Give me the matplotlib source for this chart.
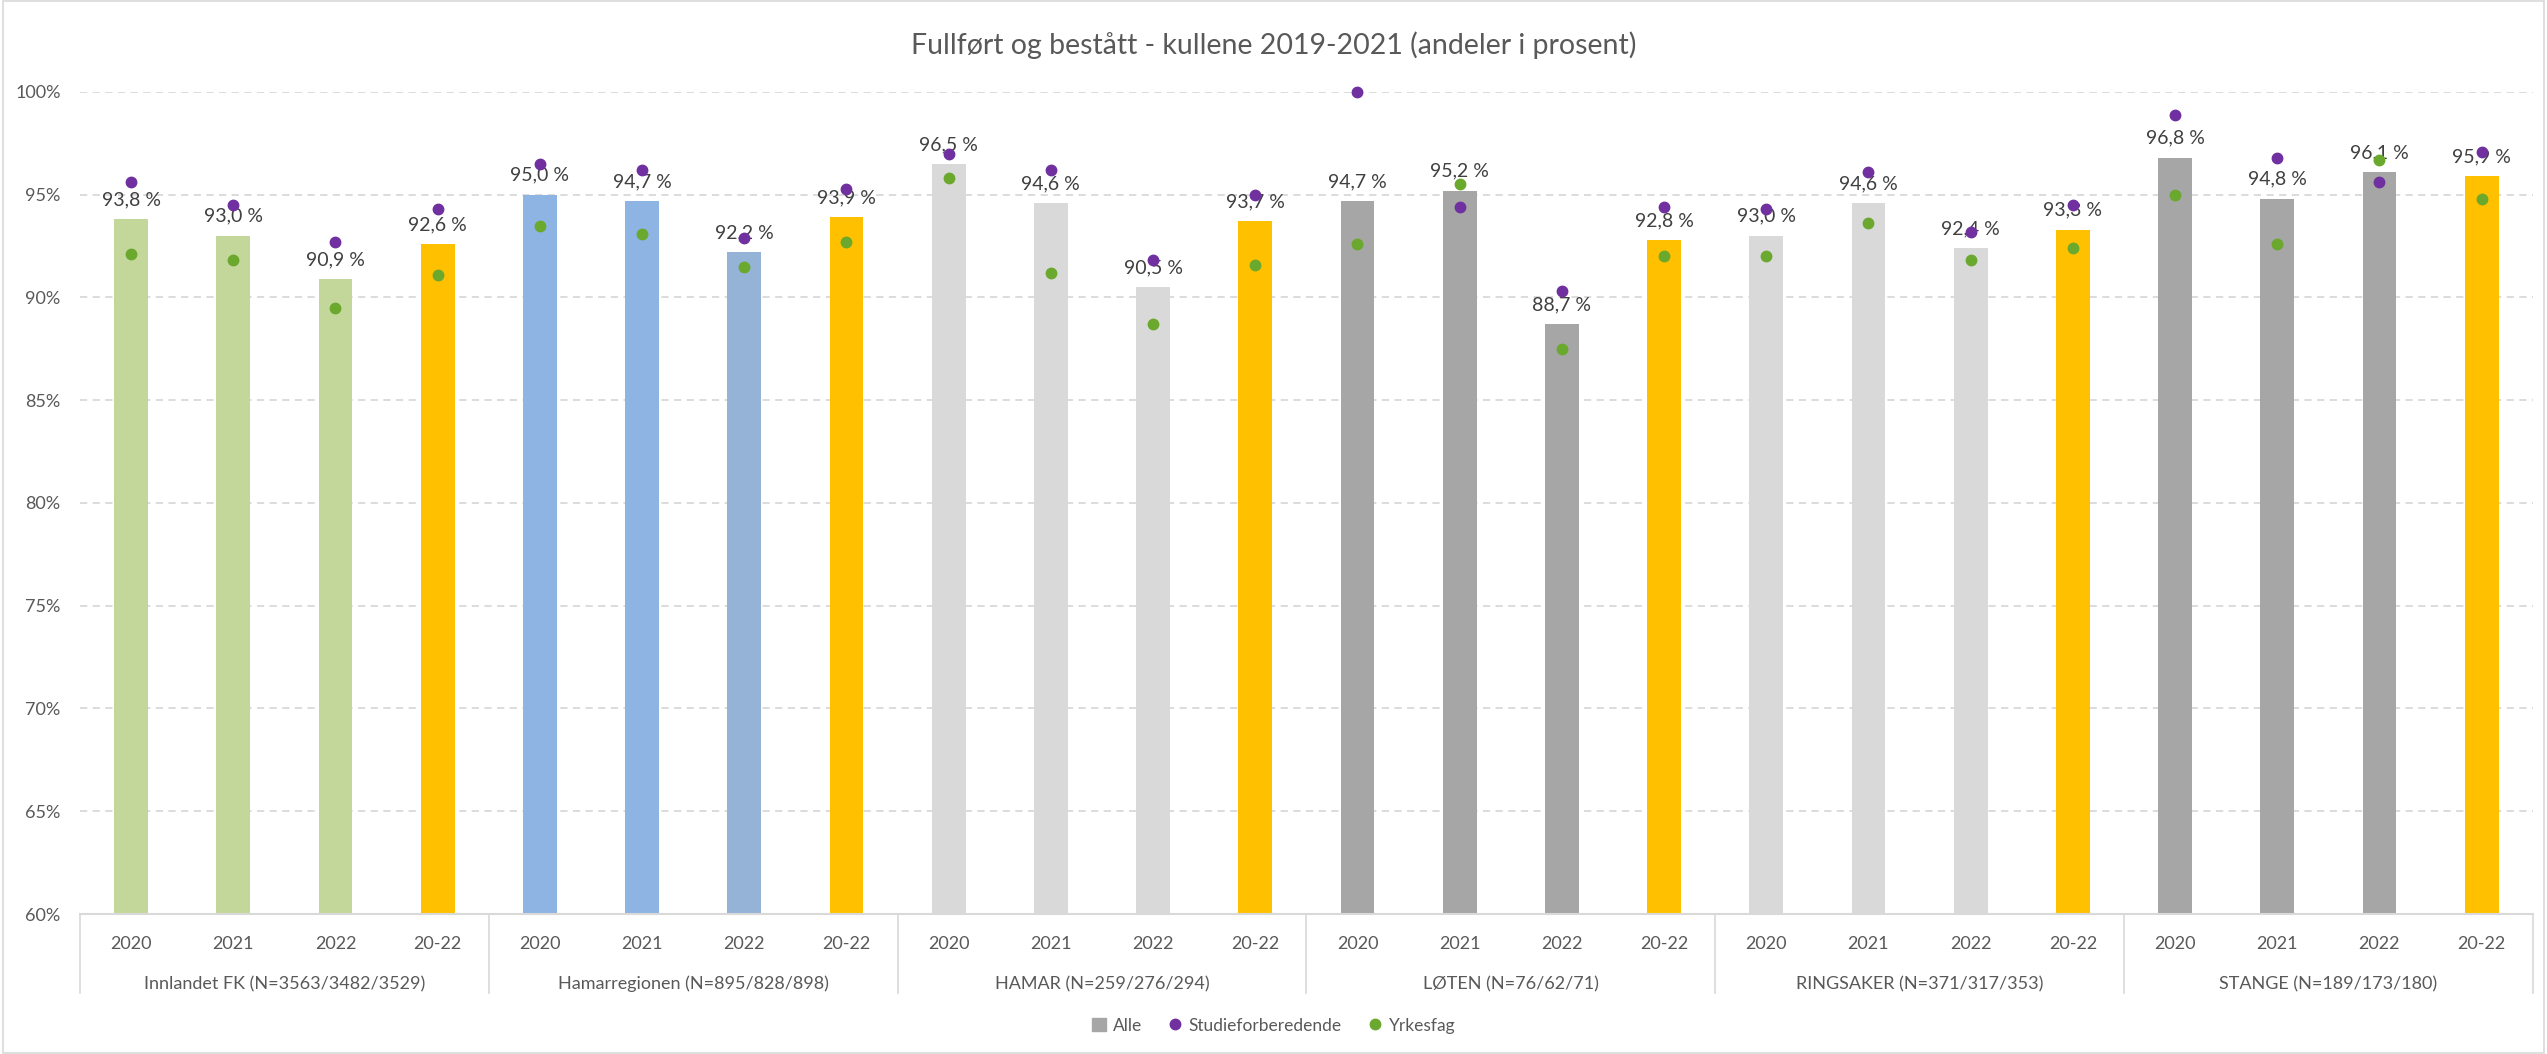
import matplotlib
matplotlib.use("Agg")
import matplotlib.pyplot as plt
from matplotlib.patches import Patch, Rectangle
from matplotlib.lines import Line2D
from matplotlib.ticker import FuncFormatter
import numpy as np

plt.rcParams['font.family'] = ['Lato', 'DejaVu Sans']

# ---------------------------------------------------------------------------
# Data
# ---------------------------------------------------------------------------
groups = ["Innlandet FK (N=3563/3482/3529)", "Hamarregionen (N=895/828/898)",
          "HAMAR (N=259/276/294)", "LØTEN (N=76/62/71)",
          "RINGSAKER (N=371/317/353)", "STANGE (N=189/173/180)"]
periods = ["2020", "2021", "2022", "20-22"]

alle = [93.8, 93.0, 90.9, 92.6,
        95.0, 94.7, 92.2, 93.9,
        96.5, 94.6, 90.5, 93.7,
        94.7, 95.2, 88.7, 92.8,
        93.0, 94.6, 92.4, 93.3,
        96.8, 94.8, 96.1, 95.9]
studie = [95.6, 94.5, 92.7, 94.3,
          96.5, 96.2, 92.9, 95.3,
          97.0, 96.2, 91.8, 95.0,
          100.0, 94.4, 90.3, 94.4,
          94.3, 96.1, 93.2, 94.5,
          98.9, 96.8, 95.6, 97.1]
yrkes = [92.1, 91.8, 89.5, 91.1,
         93.5, 93.1, 91.5, 92.7,
         95.8, 91.2, 88.7, 91.6,
         92.6, 95.5, 87.5, 92.0,
         92.0, 93.6, 91.8, 92.4,
         95.0, 92.6, 96.7, 94.8]

GOLD = '#FFC000'
bar_colors = ['#C4D79B', '#C4D79B', '#C4D79B', GOLD,
              '#8DB4E2', '#8DB4E2', '#95B3D7', GOLD,
              '#D9D9D9', '#D9D9D9', '#D9D9D9', GOLD,
              '#A6A6A6', '#A6A6A6', '#A6A6A6', GOLD,
              '#D9D9D9', '#D9D9D9', '#D9D9D9', GOLD,
              '#A6A6A6', '#A6A6A6', '#A6A6A6', GOLD]

PURPLE = '#7030A0'
GREEN = '#6AA82E'
TEXT = '#595959'

# ---------------------------------------------------------------------------
# Plot
# ---------------------------------------------------------------------------
fig = plt.figure(figsize=(25.47, 10.54), dpi=100)
ax = fig.add_axes([0.0314, 0.1328, 0.963, 0.780])

x = np.arange(len(alle))
ax.bar(x, alle, width=0.33, color=bar_colors, zorder=2)
ax.plot(x, studie, 'o', color=PURPLE, markersize=7.5, zorder=4, clip_on=False)
ax.plot(x, yrkes, 'o', color=GREEN, markersize=7.5, zorder=4, clip_on=False)

for xi, v in zip(x, alle):
    ax.annotate(f"{v:.1f}".replace(".", ",") + " %", (xi, v),
                xytext=(0, 14), textcoords='offset points',
                ha='center', va='center', fontsize=14, color='#404040', zorder=3)

ax.set_ylim(60, 100)
ax.set_xlim(-0.5, len(alle) - 0.5)
ax.set_yticks(np.arange(60, 101, 5))
ax.yaxis.set_major_formatter(FuncFormatter(lambda v, _: f"{v:.0f}%"))
ax.grid(axis='y', linestyle=(0, (4, 3)), color='#D9D9D9', linewidth=1.3, zorder=0)
ax.set_axisbelow(True)

ax.set_xticks(x)
ax.set_xticklabels(periods * len(groups))
ax.tick_params(axis='both', length=0, labelsize=13, colors=TEXT)
ax.tick_params(axis='x', pad=16)
ax.tick_params(axis='y', pad=14)

for s in ['top', 'right', 'left']:
    ax.spines[s].set_visible(False)
ax.spines['bottom'].set_color('#D9D9D9')
ax.spines['bottom'].set_linewidth(1.5)

# group separators and group labels under the axis
trans = ax.get_xaxis_transform()
for b in np.arange(-0.5, len(alle), 4):
    ax.plot([b, b], [0, -0.096], color='#D9D9D9', linewidth=1.2,
            transform=trans, clip_on=False)
for i, g in enumerate(groups):
    ax.text(i * 4 + 1.5, -0.085, g, transform=trans, ha='center', va='center',
            fontsize=13, color=TEXT)

fig.text(0.5, 0.957, "Fullført og bestått - kullene 2019-2021 (andeler i prosent)",
         ha='center', va='center', fontsize=20.5, color=TEXT)

handles = [Patch(color='#A6A6A6', label='Alle'),
           Line2D([], [], marker='o', linestyle='none', color=PURPLE,
                  markersize=7.5, label='Studieforberedende'),
           Line2D([], [], marker='o', linestyle='none', color=GREEN,
                  markersize=7.5, label='Yrkesfag')]
fig.legend(handles=handles, loc='center', bbox_to_anchor=(0.5, 0.027), ncol=3,
           frameon=False, fontsize=12.5, handlelength=0.8, handletextpad=0.4,
           columnspacing=1.5, labelcolor=TEXT)

# chart area border
fig.patches.append(Rectangle((0.001, 0.001), 0.998, 0.998, transform=fig.transFigure,
                             fill=False, edgecolor='#D9D9D9', linewidth=1.2))

fig.savefig('out.png', dpi=100)
